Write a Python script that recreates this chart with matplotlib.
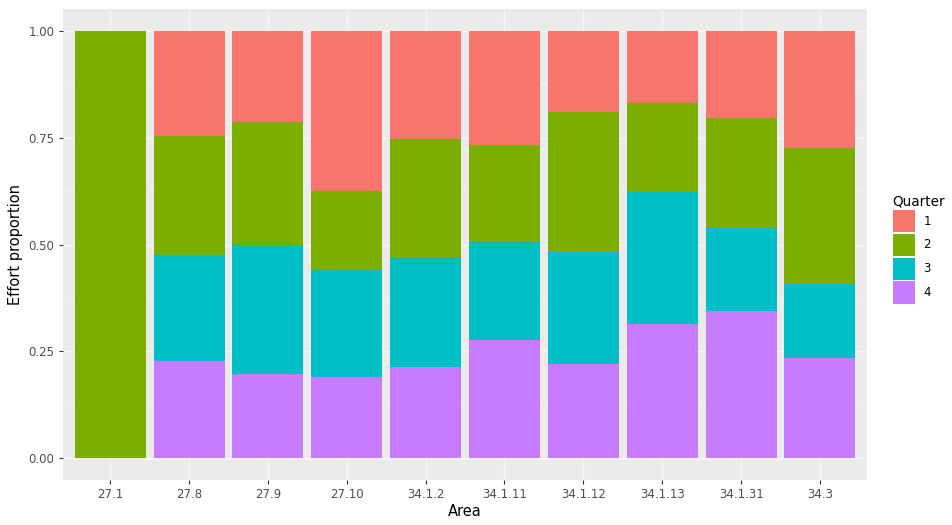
import numpy as np
import matplotlib.pyplot as plt
from matplotlib.patches import Patch

# ======================
# DATOS
# ======================
areas = ['27.1', '27.8', '27.9', '27.10', '34.1.2', '34.1.11',
         '34.1.12', '34.1.13', '34.1.31', '34.3']
quarters = ['1', '2', '3', '4']

# proporción de esfuerzo por trimestre
q1 = [0.000, 0.246, 0.213, 0.374, 0.253, 0.266, 0.191, 0.168, 0.205, 0.274]
q2 = [1.000, 0.279, 0.288, 0.186, 0.279, 0.227, 0.326, 0.208, 0.256, 0.318]
q3 = [0.000, 0.247, 0.302, 0.251, 0.254, 0.230, 0.263, 0.310, 0.194, 0.173]
q4 = [0.000, 0.228, 0.197, 0.189, 0.214, 0.277, 0.220, 0.314, 0.345, 0.235]

colores = ['#F8766D', '#7CAE00', '#00BFC4', '#C77CFF']

# ======================
# GRÁFICO
# ======================
fig = plt.figure(figsize=(9.52, 5.25), dpi=100)
ax = fig.add_axes([0.066, 0.0865, 0.845, 0.8955])
ax.set_facecolor('#EBEBEB')

x = np.arange(1, len(areas) + 1)
series = [q4, q3, q2, q1]
cols = [colores[3], colores[2], colores[1], colores[0]]
base = np.zeros(len(areas))
for vals, c in zip(series, cols):
    vals = np.array(vals)
    ax.bar(x, vals, bottom=base, width=0.9, color=c, linewidth=0, zorder=3)
    base += vals

ax.set_xlim(0.4, len(areas) + 0.6)
ax.set_ylim(-0.05, 1.05)
ax.set_xticks(x)
ax.set_xticklabels(areas)
ax.set_yticks([0, 0.25, 0.5, 0.75, 1.0])
ax.set_yticklabels(['0.00', '0.25', '0.50', '0.75', '1.00'])
ax.set_yticks([0.125, 0.375, 0.625, 0.875], minor=True)

ax.grid(True, which='major', color='#F7F7F7', linewidth=1.0, zorder=0)
ax.grid(True, which='minor', axis='y', color='#F3F3F3', linewidth=0.5, zorder=0)
ax.set_axisbelow(True)
for s in ax.spines.values():
    s.set_visible(False)

ax.tick_params(axis='both', which='major', colors='#333333', length=3,
               width=0.8, labelsize=8.5, labelcolor='#4D4D4D', pad=3)
ax.tick_params(axis='both', which='minor', length=0)

ax.set_xlabel('Area', fontsize=10.5, color='black', labelpad=2)
ax.set_ylabel('Effort proportion', fontsize=10.5, color='black', labelpad=4)

handles = [Patch(facecolor=c, edgecolor='none', label=q) for c, q in zip(colores, quarters)]
leg = fig.legend(handles=handles, title='Quarter', loc='center left',
                 bbox_to_anchor=(0.929, 0.526), frameon=False, fontsize=8.5,
                 title_fontsize=9.8, handlelength=1.9, handleheight=2.5,
                 handletextpad=0.7, labelspacing=0.15, borderpad=0.2)
leg._legend_box.align = 'left'

fig.savefig('out.png', dpi=100)
